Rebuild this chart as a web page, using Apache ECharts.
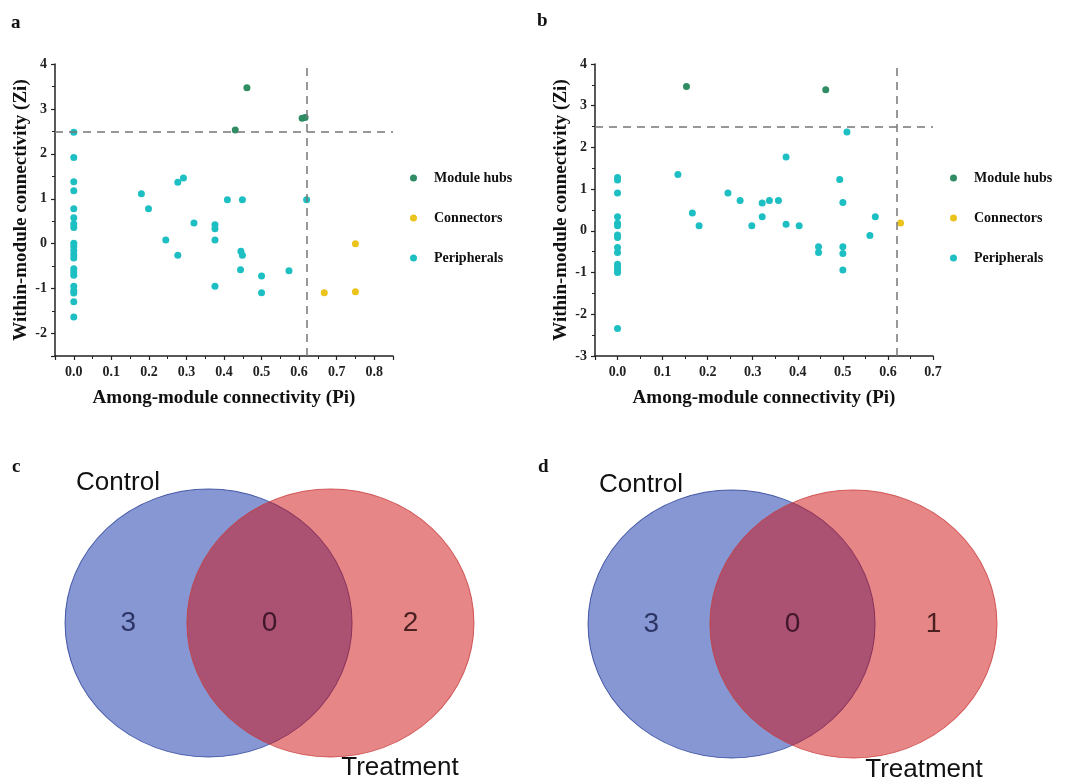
<!DOCTYPE html>
<html>
<head>
<meta charset="utf-8">
<script src="https://cdn.jsdelivr.net/npm/echarts@6/dist/echarts.min.js"></script>
<style>
html, body { margin: 0; padding: 0; background: #fff; }
#main { width: 1067px; height: 781px; }
</style>
</head>
<body>
<div id="main"></div>
<script>
// node roles and colours
var roles = ['Module hubs', 'Connectors', 'Peripherals']
var roleColors = ['#2f8c63', '#ebc31d', '#1ebfc3']

// thresholds
var ziThreshold = 2.5
var piThreshold = 0.62

// panel a (Pi, Zi)
var aHubs = [[0.461, 3.47], [0.43, 2.53], [0.608, 2.79], [0.616, 2.81]]
var aConnectors = [[0.75, 0.0], [0.667, -1.09], [0.75, -1.07]]
var aPeripherals = [
  [0, 2.48], [0, 1.92], [0, 1.38], [0, 1.18], [0, 0.78], [0, 0.58], [0, 0.44], [0, 0.36],
  [0, 0.01], [0, -0.06], [0, -0.15], [0, -0.24], [0, -0.32], [0, -0.56], [0, -0.63], [0, -0.70],
  [0, -0.95], [0, -1.04], [0, -1.10], [0, -1.29], [0, -1.63],
  [0.18, 1.11], [0.199, 0.78], [0.277, 1.37], [0.292, 1.46], [0.245, 0.08], [0.277, -0.26],
  [0.32, 0.46], [0.376, 0.42], [0.376, 0.33], [0.376, 0.08], [0.376, -0.95], [0.409, 0.98],
  [0.449, 0.98], [0.445, -0.17], [0.449, -0.26], [0.444, -0.58], [0.5, -0.72], [0.5, -1.09],
  [0.573, -0.60], [0.62, 0.98]
]

// panel b (Pi, Zi)
var bHubs = [[0.153, 3.46], [0.462, 3.38]]
var bConnectors = [[0.628, 0.19]]
var bPeripherals = [
  [0, 1.28], [0, 1.22], [0, 0.91], [0, 0.34], [0, 0.18], [0, 0.12], [0, -0.10], [0, -0.16],
  [0, -0.40], [0, -0.52], [0, -0.80], [0, -0.88], [0, -0.94], [0, -1.00], [0, -2.34],
  [0.134, 1.35], [0.166, 0.43], [0.181, 0.12], [0.245, 0.91], [0.272, 0.73], [0.298, 0.12],
  [0.321, 0.67], [0.321, 0.34], [0.337, 0.73], [0.357, 0.73], [0.374, 1.77], [0.374, 0.16],
  [0.403, 0.12], [0.446, -0.38], [0.446, -0.52], [0.493, 1.23], [0.5, 0.68], [0.5, -0.38],
  [0.5, -0.54], [0.5, -0.94], [0.509, 2.37], [0.56, -0.11], [0.572, 0.34]
]

// venn diagrams (c, d)
var vennSets = ['Control', 'Treatment']
var vennCountsC = [3, 0, 2]
var vennCountsD = [3, 0, 1]

var serif = '"Liberation Serif", "Times New Roman", serif'
var sans = '"Liberation Sans", Arial, sans-serif'

function xLabel (v) {
  var r = Math.round(v * 10)
  return Math.abs(v * 10 - r) < 1e-6 ? (r / 10).toFixed(1) : ''
}
function yLabel (v) {
  var r = Math.round(v)
  return Math.abs(v - r) < 1e-6 ? String(r) : ''
}

function pXAxis (grid, max) {
  return {
    type: 'value', gridIndex: grid, min: -0.05, max: max,
    minInterval: 0.1, maxInterval: 0.1,
    name: 'Among-module connectivity (Pi)', nameLocation: 'middle', nameGap: 33,
    nameTextStyle: { fontFamily: serif, fontWeight: 'bold', fontSize: 19, color: '#111' },
    axisLine: { onZero: false, lineStyle: { color: '#222', width: 1.5 } },
    axisTick: { length: 4, lineStyle: { color: '#222', width: 1.2 } },
    minorTick: { show: true, splitNumber: 2, length: 3, lineStyle: { color: '#222', width: 1 } },
    axisLabel: { formatter: xLabel, fontFamily: serif, fontWeight: 'bold', fontSize: 14, color: '#222', margin: 9 },
    splitLine: { show: false }
  }
}
function pYAxis (grid, min) {
  return {
    type: 'value', gridIndex: grid, min: min, max: 4,
    minInterval: 1, maxInterval: 1,
    name: 'Within-module connectivity (Zi)', nameLocation: 'middle', nameGap: 24,
    nameTextStyle: { fontFamily: serif, fontWeight: 'bold', fontSize: 19, color: '#111' },
    axisLine: { onZero: false, lineStyle: { color: '#222', width: 1.5 } },
    axisTick: { length: 4, lineStyle: { color: '#222', width: 1.2 } },
    minorTick: { show: true, splitNumber: 2, length: 3, lineStyle: { color: '#222', width: 1 } },
    axisLabel: { formatter: yLabel, fontFamily: serif, fontWeight: 'bold', fontSize: 14, color: '#222', margin: 8 },
    splitLine: { show: false }
  }
}

function roleSeries (grid, groups) {
  return groups.map(function (d, i) {
    var s = {
      name: roles[i], type: 'scatter', xAxisIndex: grid, yAxisIndex: grid,
      data: d, symbolSize: 7, itemStyle: { color: roleColors[i], opacity: 1 }
    }
    if (i === 2) {
      s.markLine = {
        silent: true, symbol: 'none', label: { show: false },
        lineStyle: { color: '#777', type: [8, 6], width: 1.5 },
        data: [{ yAxis: ziThreshold }, { xAxis: piThreshold }]
      }
    }
    return s
  })
}

// venn layout in unit coordinates of each hidden grid
var vennOffset = 0.149
var vennLabelX = [0.155, 0.5, 0.845]
var vennLabelColors = ['#161c48', '#240818', '#240606']
var vennFill = ['rgba(14, 48, 170, 0.5)', 'rgba(208, 14, 16, 0.5)']
var vennBorder = ['rgba(40, 60, 150, 0.8)', 'rgba(200, 60, 60, 0.8)']

function vennSeries (grid, counts) {
  var out = vennSets.map(function (name, i) {
    return {
      name: name, type: 'scatter', xAxisIndex: grid, yAxisIndex: grid, silent: true,
      data: [[0.5 + (i === 0 ? -vennOffset : vennOffset), 0.5]],
      symbolSize: [287, 268],
      itemStyle: { color: vennFill[i], borderColor: vennBorder[i], borderWidth: 1, opacity: 1 }
    }
  })
  out.push({
    type: 'scatter', xAxisIndex: grid, yAxisIndex: grid, silent: true, symbolSize: 0,
    data: counts.map(function (c, i) {
      return { value: [vennLabelX[i], 0.5, c], label: { color: vennLabelColors[i] } }
    }),
    label: {
      show: true, position: 'inside', fontFamily: sans, fontSize: 28,
      formatter: function (p) { return String(p.value[2]) }
    }
  })
  return out
}

function hiddenAxis (grid) {
  return { type: 'value', gridIndex: grid, min: 0, max: 1, show: false }
}

function txt (x, y, text, font, align) {
  return {
    type: 'text', x: x, y: y,
    style: { text: text, font: font, fill: '#111', align: align || 'center', verticalAlign: 'middle' }
  }
}

var chart = echarts.init(document.getElementById('main'), null, { renderer: 'canvas' })
var legendBase = {
  orient: 'vertical', data: roles, icon: 'circle', itemWidth: 7, itemHeight: 7, itemGap: 26,
  textStyle: { fontFamily: serif, fontWeight: 'bold', fontSize: 14, color: '#111', padding: [0, 0, 0, 12] },
  selectedMode: false
}
chart.setOption({
  animation: false,
  backgroundColor: '#fff',
  grid: [
    { left: 55, top: 64, width: 338, height: 292 },
    { left: 595, top: 64, width: 338, height: 292 },
    { left: 65, top: 489, width: 409, height: 268 },
    { left: 588, top: 490, width: 409, height: 268 }
  ],
  xAxis: [pXAxis(0, 0.85), pXAxis(1, 0.7), hiddenAxis(2), hiddenAxis(3)],
  yAxis: [pYAxis(0, -2.5), pYAxis(1, -3), hiddenAxis(2), hiddenAxis(3)],
  legend: [
    Object.assign({ left: 405, top: 166 }, legendBase),
    Object.assign({ left: 945, top: 166 }, legendBase)
  ],
  graphic: [
    txt(11, 23, 'a', 'bold 19px ' + serif, 'left'),
    txt(537, 21, 'b', 'bold 19px ' + serif, 'left'),
    txt(12, 467, 'c', 'bold 19px ' + serif, 'left'),
    txt(538, 467, 'd', 'bold 19px ' + serif, 'left'),
    txt(118, 483, vennSets[0], '26px ' + sans),
    txt(400, 768, vennSets[1], '26px ' + sans),
    txt(641, 485, vennSets[0], '26px ' + sans),
    txt(924, 770, vennSets[1], '26px ' + sans)
  ],
  series: []
    .concat(roleSeries(0, [aHubs, aConnectors, aPeripherals]))
    .concat(roleSeries(1, [bHubs, bConnectors, bPeripherals]))
    .concat(vennSeries(2, vennCountsC))
    .concat(vennSeries(3, vennCountsD))
})
</script>
</body>
</html>
